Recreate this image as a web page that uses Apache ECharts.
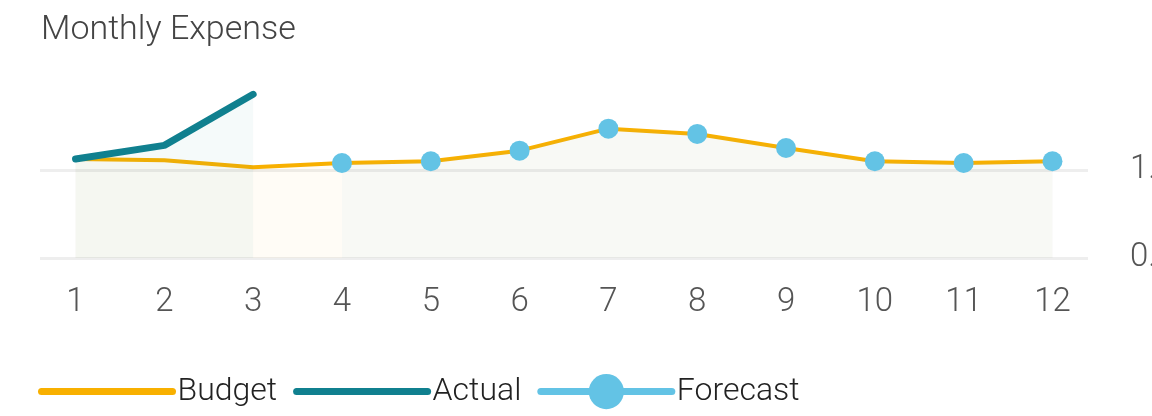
<!DOCTYPE html>
<html>
<head>
<meta charset="utf-8">
<title>Monthly Expense</title>
<script src="https://cdn.jsdelivr.net/npm/echarts@6/dist/echarts.min.js"></script>
<style>
  html, body { margin: 0; padding: 0; background: #ffffff; }
  #chart { width: 1152px; height: 416px; }
</style>
</head>
<body>
<div id="chart"></div>
<script>
// Months on the x axis
var months = [1, 2, 3, 4, 5, 6, 7, 8, 9, 10, 11, 12];
// Planned spend per month
var budget = [1.125, 1.11, 1.03, 1.08, 1.10, 1.22, 1.47, 1.41, 1.25, 1.10, 1.08, 1.10];
// Spend recorded so far
var actual = [1.125, 1.28, 1.86, null, null, null, null, null, null, null, null, null];
// Projected spend for the rest of the year
var forecast = [null, null, null, 1.08, 1.10, 1.22, 1.47, 1.41, 1.25, 1.10, 1.08, 1.10];

var FONT = 'Roboto';
var C_BUDGET = '#F8B000';
var C_ACTUAL = '#10808F';
var C_FORECAST = '#63C3E5';
var NO_DOT = { color: 'rgba(0,0,0,0)', borderWidth: 0 };

function pairs(values) {
  return months.map(function (m, i) { return [m, values[i]]; });
}

var chart = echarts.init(document.getElementById('chart'), null, { renderer: 'canvas' });

chart.setOption({
  animation: false,
  backgroundColor: '#ffffff',
  title: {
    text: 'Monthly Expense',
    left: 36,
    top: 8,
    textStyle: { fontFamily: FONT, fontWeight: 300, fontSize: 34, color: '#444444' }
  },
  legend: {
    left: 33,
    top: 369,
    itemWidth: 131,
    itemHeight: 44,
    itemGap: 16,
    textStyle: { fontFamily: FONT, fontWeight: 300, fontSize: 32, color: '#222222' },
    data: [
      { name: 'Budget', itemStyle: NO_DOT, lineStyle: { width: 7, color: C_BUDGET, cap: 'round' } },
      { name: 'Actual', itemStyle: NO_DOT, lineStyle: { width: 7, color: C_ACTUAL, cap: 'round' } },
      { name: 'Forecast', lineStyle: { width: 7, color: C_FORECAST, opacity: 1, cap: 'round' } }
    ]
  },
  grid: { left: 40, right: 64, top: 82, bottom: 158, outerBoundsMode: 'none' },
  xAxis: {
    type: 'value',
    min: 0.6,
    max: 12.4,
    axisLine: { show: false },
    axisTick: { show: false },
    splitLine: { show: false },
    axisLabel: {
      customValues: months,
      margin: 28,
      fontFamily: FONT,
      fontWeight: 300,
      fontSize: 33,
      color: '#555555'
    }
  },
  yAxis: {
    type: 'value',
    position: 'right',
    min: 0,
    max: 2,
    interval: 1,
    axisLine: { show: false },
    axisTick: { show: false },
    // lines at 0 and 1 only; the top edge stays blank
    splitLine: { lineStyle: { color: ['#eeeeee', '#eeeeee', 'rgba(0,0,0,0)'], width: 3 } },
    axisLabel: {
      margin: 42,
      showMaxLabel: false,
      fontFamily: FONT,
      fontWeight: 300,
      fontSize: 33,
      color: '#555555',
      formatter: function (v) { return v.toFixed(1); }
    }
  },
  series: [
    {
      name: 'Budget',
      type: 'line',
      data: pairs(budget),
      z: 3,
      symbol: 'none',
      lineStyle: { width: 4, color: C_BUDGET },
      itemStyle: { color: C_BUDGET },
      areaStyle: { color: 'rgba(248,176,0,0.05)' }
    },
    {
      name: 'Actual',
      type: 'line',
      data: pairs(actual),
      z: 4,
      symbol: 'none',
      lineStyle: { width: 7, color: C_ACTUAL, cap: 'round' },
      itemStyle: { color: C_ACTUAL },
      areaStyle: { color: 'rgba(16,128,143,0.06)' }
    },
    {
      name: 'Forecast',
      type: 'line',
      data: pairs(forecast),
      z: 5,
      symbol: 'circle',
      symbolSize: 20,
      showSymbol: true,
      lineStyle: { width: 0, opacity: 0, color: C_FORECAST },
      itemStyle: { color: C_FORECAST },
      areaStyle: { color: 'rgba(99,195,229,0.06)' }
    }
  ]
});
</script>
</body>
</html>
